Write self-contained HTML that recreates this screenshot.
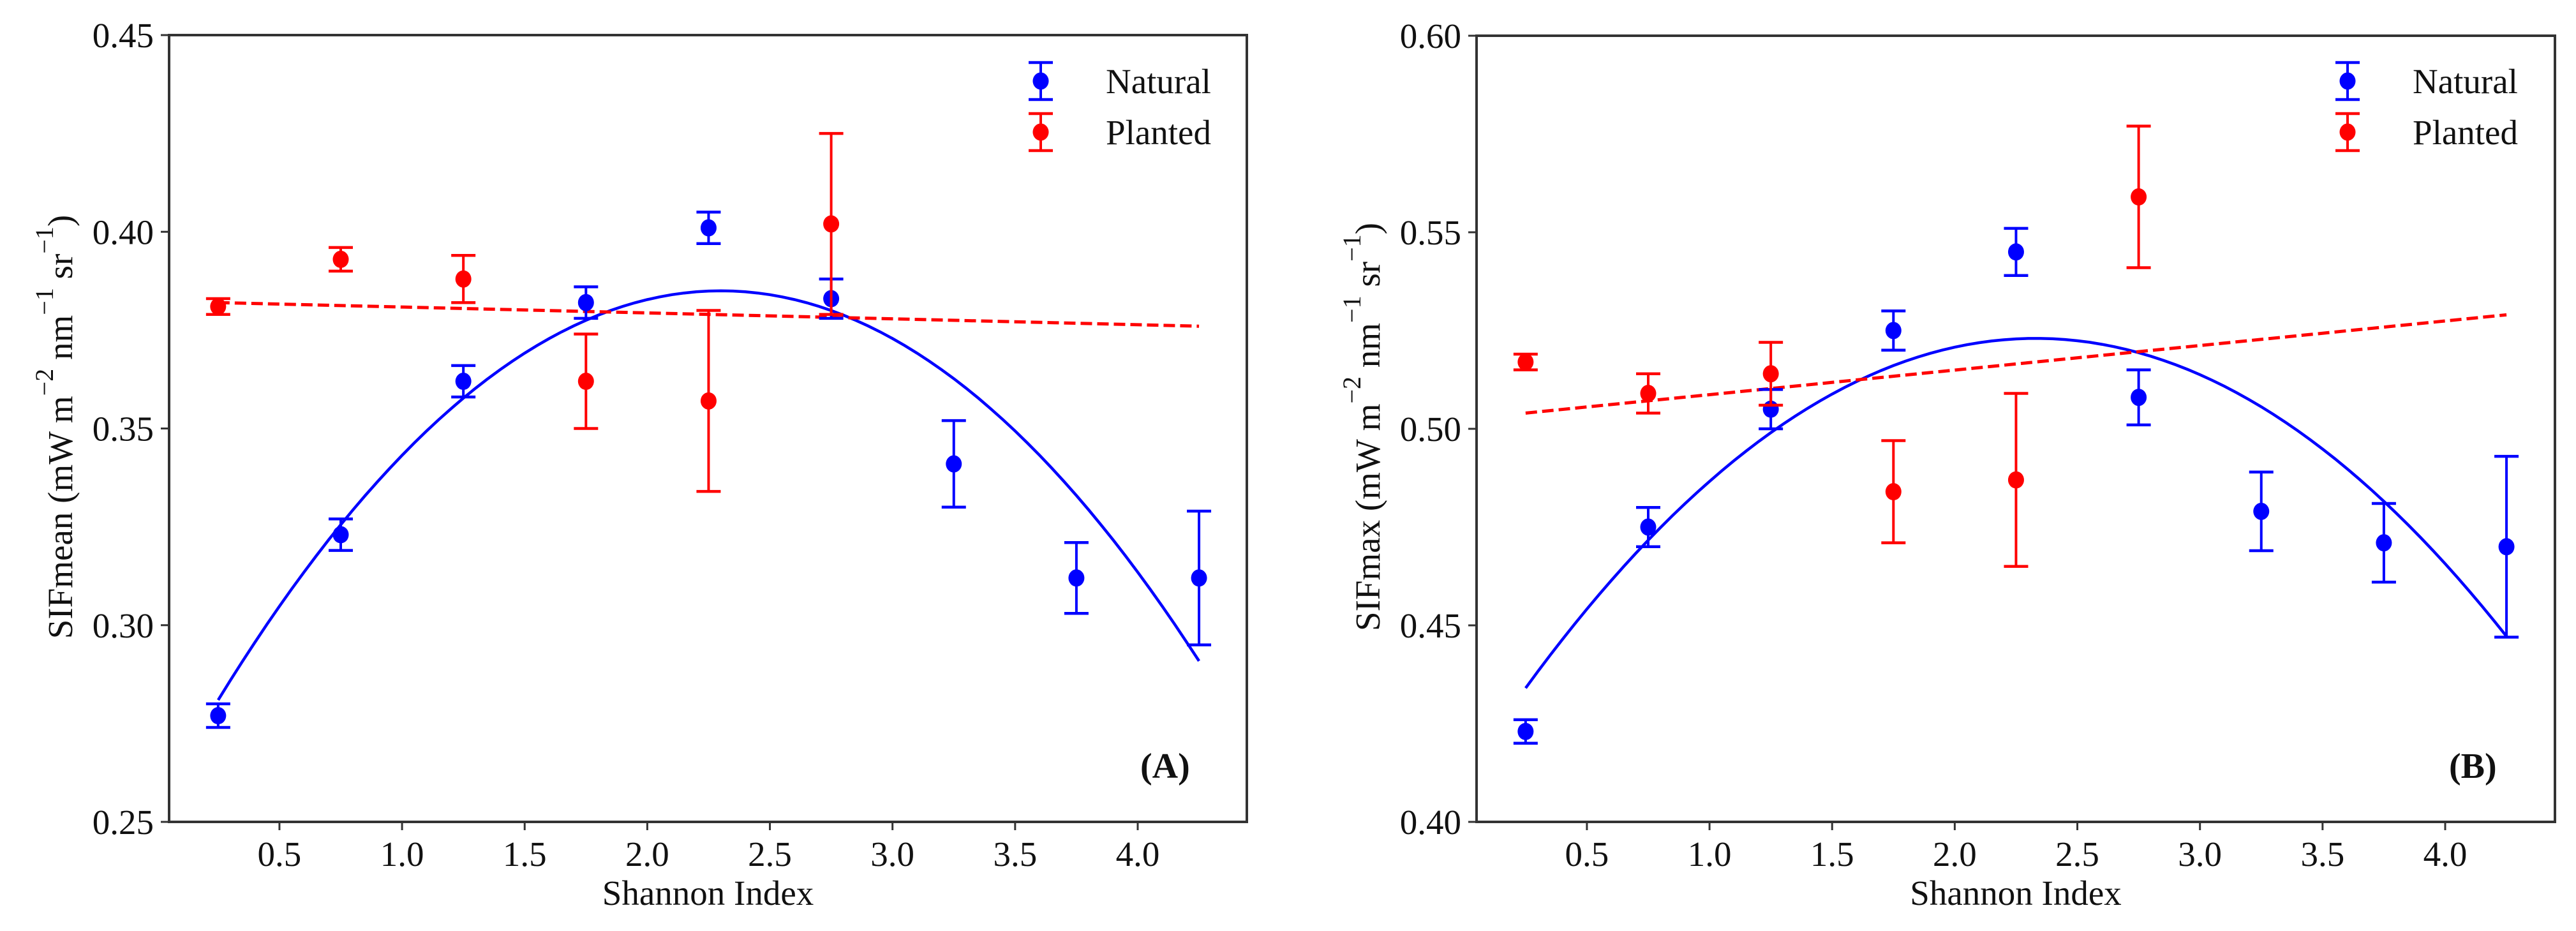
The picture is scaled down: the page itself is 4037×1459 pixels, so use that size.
<!DOCTYPE html>
<html><head><meta charset="utf-8"><style>
html,body{margin:0;padding:0;background:#fff;}
svg{display:block;font-family:"Liberation Serif",serif;}
</style></head><body>
<svg id="fig" width="4037" height="1459" viewBox="0 0 4037 1459" xmlns="http://www.w3.org/2000/svg"></svg>
<script>
const xCats = [0.25, 0.75, 1.25, 1.75, 2.25, 2.75, 3.25, 3.75, 4.25];
const xTicks = [0.5, 1.0, 1.5, 2.0, 2.5, 3.0, 3.5, 4.0];
const xTickLabels = ["0.5","1.0","1.5","2.0","2.5","3.0","3.5","4.0"];

const naturalA = [0.277, 0.323, 0.362, 0.382, 0.401, 0.383, 0.341, 0.312, 0.312];
const naturalAErr = [0.003, 0.004, 0.004, 0.004, 0.004, 0.005, 0.011, 0.009, 0.017];
const plantedA = [0.381, 0.393, 0.388, 0.362, 0.357, 0.402];
const plantedAErr = [0.002, 0.003, 0.006, 0.012, 0.023, 0.023];
const quadFitA = [2.3, 0.385, -0.02475];   // vertex x, vertex y, curvature
const linFitA = [0.382, 0.376];            // y at x=0.25 and x=4.25
const yTicksA = [0.25, 0.30, 0.35, 0.40, 0.45];
const yTickLabelsA = ["0.25","0.30","0.35","0.40","0.45"];

const naturalB = [0.423, 0.475, 0.505, 0.525, 0.545, 0.508, 0.479, 0.471, 0.470];
const naturalBErr = [0.003, 0.005, 0.005, 0.005, 0.006, 0.007, 0.010, 0.010, 0.023];
const plantedB = [0.517, 0.509, 0.514, 0.484, 0.487, 0.559];
const plantedBErr = [0.002, 0.005, 0.008, 0.013, 0.022, 0.018];
const quadFitB = [2.33, 0.523, -0.02056];
const linFitB = [0.504, 0.529];
const yTicksB = [0.40, 0.45, 0.50, 0.55, 0.60];
const yTickLabelsB = ["0.40","0.45","0.50","0.55","0.60"];

const NS = "http://www.w3.org/2000/svg";
const svg = document.getElementById("fig");
function mk(tag, attrs, parent){
  const e = document.createElementNS(NS, tag);
  for (const k in attrs) e.setAttribute(k, attrs[k]);
  (parent||svg).appendChild(e);
  return e;
}

function panel(cfg){
  const g = mk("g", {});
  
  
  const L = cfg.left, R = cfg.right, T = cfg.top, B = 1288;
  const xmin = 0.05, xmax = (R - L) / 384.3 + 0.05;
  const sx = v => L + (v - xmin) * 384.3;
  const sy = v => B - (v - cfg.ymin) / (cfg.ymax - cfg.ymin) * (B - T);

  // fits
  const fitG = mk("g", {}, g);
  
  
  let pts = [];
  for (let i = 0; i <= 80; i++) {
    const x = 0.25 + 4 * i / 80;
    const y = cfg.quad[1] + cfg.quad[2] * (x - cfg.quad[0]) * (x - cfg.quad[0]);
    pts.push(sx(x).toFixed(1) + "," + sy(y).toFixed(1));
  }
  const q = mk("polyline", {points: pts.join(" "), fill: "none", stroke: "#0000ff", "stroke-width": 4.5}, fitG);
  
  
  const ln = mk("line", {x1: sx(0.25), y1: sy(cfg.lin[0]), x2: sx(4.25), y2: sy(cfg.lin[1]), stroke: "#ff0000", "stroke-width": 5, "stroke-dasharray": "18,8"}, fitG);
  
  

  function series(vals, errs, color, nm){
    const sg = mk("g", {}, g);
    
    
    vals.forEach((v, i) => {
      const x = sx(xCats[i]);
      const pg = mk("g", {}, sg);
      
      
      const y1 = sy(v + errs[i]), y2 = sy(v - errs[i]);
      mk("line", {x1: x, y1: y1, x2: x, y2: y2, stroke: color, "stroke-width": 4}, pg);
      mk("line", {x1: x - 19, y1: y1, x2: x + 19, y2: y1, stroke: color, "stroke-width": 4.5}, pg);
      mk("line", {x1: x - 19, y1: y2, x2: x + 19, y2: y2, stroke: color, "stroke-width": 4.5}, pg);
      mk("ellipse", {cx: x, cy: sy(v), rx: 12.5, ry: 13.5, fill: color}, pg);
    });
  }
  series(cfg.nat, cfg.natErr, "#0000ff", "natural");
  series(cfg.pl, cfg.plErr, "#ff0000", "planted");

  // frame
  const fr = mk("rect", {x: L, y: T, width: R - L, height: B - T, fill: "none", stroke: "#333", "stroke-width": 4}, g);
  
  

  // x ticks
  xTicks.forEach((t, i) => {
    const x = sx(t);
    mk("line", {x1: x, y1: B, x2: x, y2: B + 13, stroke: "#333", "stroke-width": 3}, g);
    const tx = mk("text", {x: x, y: 1357, "font-size": 55, "text-anchor": "middle", fill: "#111"}, g);
    tx.textContent = xTickLabels[i];
    
    
  });
  cfg.yTicks.forEach((t, i) => {
    const y = sy(t);
    mk("line", {x1: L - 13, y1: y, x2: L, y2: y, stroke: "#333", "stroke-width": 3}, g);
    const ty = mk("text", {x: L - 24, y: y + 19, "font-size": 55, "text-anchor": "end", fill: "#111"}, g);
    ty.textContent = cfg.yTickLabels[i];
    
    
  });

  const xt = mk("text", {x: (L + R) / 2, y: 1418, "font-size": 55, "text-anchor": "middle", fill: "#111"}, g);
  xt.textContent = "Shannon Index";
  
  

  const yt = mk("text", {transform: "translate(" + (L - 152) + ",669) rotate(-90)", "font-size": 55, "text-anchor": "middle", fill: "#111"}, g);
  
  
  yt.innerHTML = cfg.ylab + ' (mW m<tspan dy="-30" font-size="40">\u22122</tspan><tspan dy="30"> nm</tspan><tspan dy="-30" font-size="40">\u22121</tspan><tspan dy="30"> sr</tspan><tspan dy="-30" font-size="40">\u22121</tspan><tspan dy="30">)</tspan>';

  // legend
  const lg = mk("g", {}, g);
  
  
  [["Natural", "#0000ff", 127], ["Planted", "#ff0000", 207]].forEach(([lab, c, y]) => {
    const e = mk("g", {}, lg);
    
    
    const mx = cfg.legX;
    mk("line", {x1: mx, y1: y - 29, x2: mx, y2: y + 29, stroke: c, "stroke-width": 4}, e);
    mk("line", {x1: mx - 19, y1: y - 29, x2: mx + 19, y2: y - 29, stroke: c, "stroke-width": 4.5}, e);
    mk("line", {x1: mx - 19, y1: y + 29, x2: mx + 19, y2: y + 29, stroke: c, "stroke-width": 4.5}, e);
    mk("ellipse", {cx: mx, cy: y, rx: 12.5, ry: 13.5, fill: c}, e);
    const t = mk("text", {x: mx + 102, y: y + 19, "font-size": 55, fill: "#111"}, e);
    t.textContent = lab;
  });

  const pl = mk("text", {x: cfg.tagX, y: 1219, "font-size": 56, "font-weight": "bold", fill: "#111"}, g);
  pl.textContent = cfg.tag;
  
  
}

panel({name: "panel-a", left: 265, right: 1954, top: 55, ymin: 0.25, ymax: 0.45,
  nat: naturalA, natErr: naturalAErr, pl: plantedA, plErr: plantedAErr,
  quad: quadFitA, lin: linFitA, yTicks: yTicksA, yTickLabels: yTickLabelsA,
  ylab: "SIFmean", legX: 1631, tag: "(A)", tagX: 1787});
panel({name: "panel-b", left: 2314, right: 4004, top: 56, ymin: 0.40, ymax: 0.60,
  nat: naturalB, natErr: naturalBErr, pl: plantedB, plErr: plantedBErr,
  quad: quadFitB, lin: linFitB, yTicks: yTicksB, yTickLabels: yTickLabelsB,
  ylab: "SIFmax", legX: 3679, tag: "(B)", tagX: 3838});
</script>
</body></html>
